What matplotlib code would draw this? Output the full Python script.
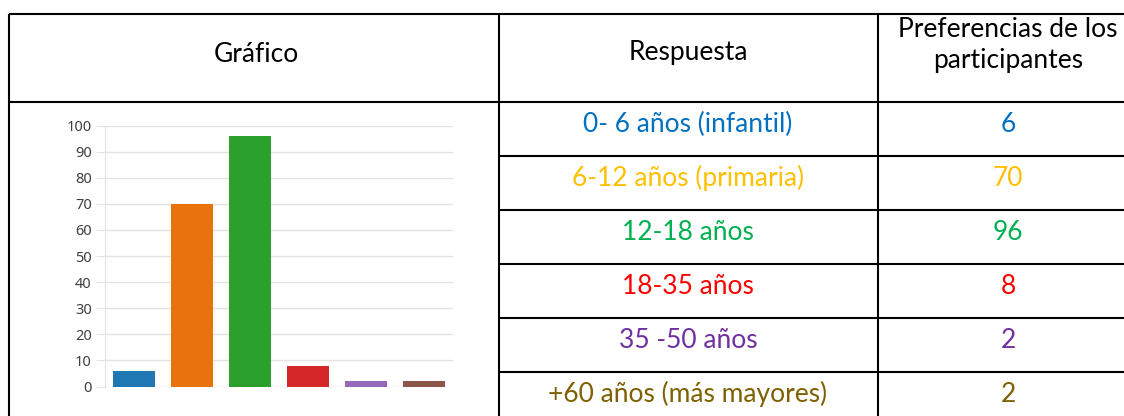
import matplotlib
matplotlib.use("Agg")
import matplotlib.pyplot as plt

# Datos de la tabla / gráfico
respuestas = ["0- 6 años (infantil)", "6-12 años (primaria)", "12-18 años",
              "18-35 años", "35 -50 años", "+60 años (más mayores)"]
participantes = [6, 70, 96, 8, 2, 2]
colores_barras = ["#1f77b4", "#e8720c", "#2ca02c", "#d62728", "#9467bd", "#8c564b"]
colores_texto = ["#0070c0", "#ffc000", "#00b050", "#ff0000", "#7030a0", "#7f6000"]
y_ticks = list(range(0, 101, 10))

W, H = 1124, 416
FUENTE = "Lato"
TAM = 19

fig = plt.figure(figsize=(W / 100, H / 100), dpi=100)
fondo = fig.add_axes([0, 0, 1, 1])
fondo.set_xlim(0, W)
fondo.set_ylim(H, 0)
fondo.axis("off")

# Líneas de la tabla (coordenadas en píxeles)
lw = 1.5
x_izq, x_c1, x_c2, x_der = 9, 499, 878, 1140
y_top, y_head = 14, 102
alto_fila = 54
fondo.hlines([y_top, y_head], x_izq, x_der, color="black", lw=lw)
fondo.vlines([x_izq, x_c1, x_c2], y_top, H + 5, color="black", lw=lw)
for i in range(1, len(respuestas)):
    y = y_head + i * alto_fila
    fondo.hlines(y, x_c1, x_der, color="black", lw=lw)

# Cabecera
fondo.text(256, 62, "Gráfico", ha="center", va="baseline", fontsize=TAM, family=FUENTE)
fondo.text(688, 60, "Respuesta", ha="center", va="baseline", fontsize=TAM, family=FUENTE)
fondo.text(1008, 37, "Preferencias de los", ha="center", va="baseline", fontsize=TAM, family=FUENTE)
fondo.text(1008, 68, "participantes", ha="center", va="baseline", fontsize=TAM, family=FUENTE)

# Filas
for i, (r, v, c) in enumerate(zip(respuestas, participantes, colores_texto)):
    base = y_head + i * alto_fila + 30
    fondo.text(688, base, r, ha="center", va="baseline", fontsize=TAM, family=FUENTE, color=c)
    fondo.text(1008, base, str(v), ha="center", va="baseline", fontsize=TAM, family=FUENTE, color=c)

# Gráfico de barras
gx0, gx1, gy0, gy1 = 105, 453, 125.5, 386.5
ax = fig.add_axes([gx0 / W, (H - gy1) / H, (gx1 - gx0) / W, (gy1 - gy0) / H])
x = list(range(len(participantes)))
ax.bar(x, participantes, width=0.72, color=colores_barras, zorder=3)
ax.set_xlim(-0.5, len(participantes) - 0.5)
ax.set_ylim(0, 100)
ax.set_yticks(y_ticks)
ax.set_xticks([])
ax.grid(axis="y", color="#e3e3e3", lw=1, zorder=0)
ax.set_axisbelow(True)
for s in ["top", "right", "bottom"]:
    ax.spines[s].set_visible(False)
ax.spines["left"].set_color("#e3e3e3")
ax.tick_params(axis="y", length=6.5, color="#e3e3e3", pad=3, labelsize=10.5,
               labelcolor="#404040", labelfontfamily="Noto Sans")

fig.savefig("out.png", dpi=100)
